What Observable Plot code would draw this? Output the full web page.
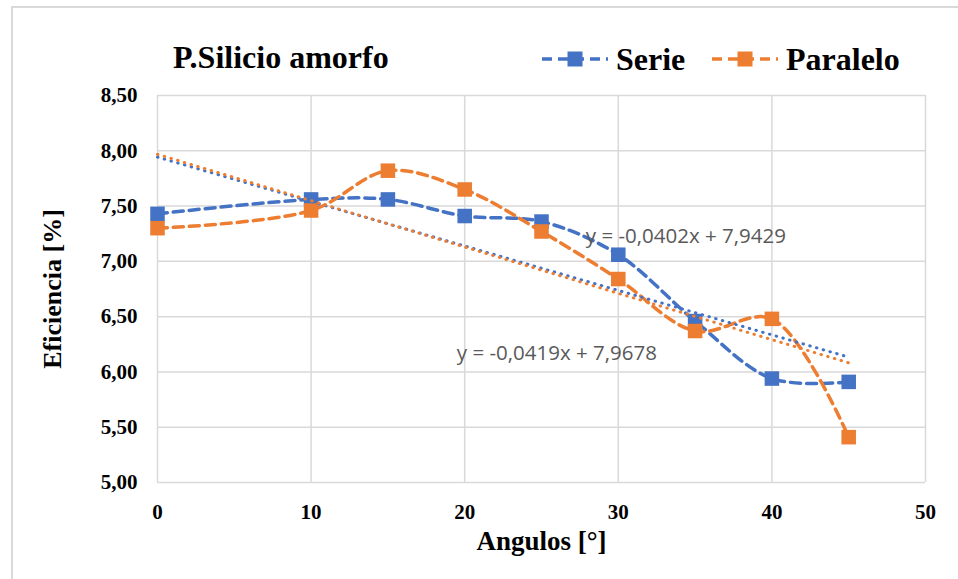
<!DOCTYPE html>
<html>
<head>
<meta charset="utf-8">
<script src="https://cdn.jsdelivr.net/npm/d3@7"></script>
<script src="https://cdn.jsdelivr.net/npm/@observablehq/plot@0.6"></script>
<style>
  body { margin: 0; background: #fff; }
  #wrap { position: relative; width: 958px; height: 579px; overflow: hidden; background: #fff; }
  #border { position: absolute; left: 11px; top: 6px; width: 960px; height: 600px; border: 2px solid #d9d9d9; box-sizing: border-box; }
  #chart { position: absolute; left: 0; top: 0; }
  .serif { font-family: "Liberation Serif", "Times New Roman", serif; font-weight: bold; color: #000; }
  #title { position: absolute; left: 173px; top: 38px; font-size: 32px; line-height: 38px; white-space: nowrap; }
  .leg { position: absolute; top: 40px; height: 38px; display: flex; align-items: center; font-size: 32px; white-space: nowrap; }
  .leg svg { margin-right: 6px; }
</style>
</head>
<body>
<div id="wrap">
  <div id="border"></div>
  <div id="chart"></div>
  <div id="title" class="serif">P.Silicio amorfo</div>
  <div id="legSerie" class="leg serif" style="left:540px"></div>
  <div id="legParalelo" class="leg serif" style="left:710px"></div>
</div>
<script>
// ---- data ----
const angles = [0, 10, 15, 20, 25, 30, 35, 40, 45];
const serieValues = [7.43, 7.56, 7.56, 7.41, 7.36, 7.06, 6.46, 5.94, 5.91];
const paraleloValues = [7.30, 7.46, 7.82, 7.65, 7.27, 6.84, 6.37, 6.48, 5.41];
const seriesNames = ["Serie", "Paralelo"];
const seriesColors = ["#4472C4", "#ED7D31"];
const trendSlopes = [-0.0402, -0.0419];
const trendIntercepts = [7.9429, 7.9678];
const trendLabels = ["y = -0,0402x + 7,9429", "y = -0,0419x + 7,9678"];
const xTicks = [0, 10, 20, 30, 40, 50];
const yTicks = [5.0, 5.5, 6.0, 6.5, 7.0, 7.5, 8.0, 8.5];

// ---- build tables ----
const valuesBySeries = [serieValues, paraleloValues];
const points = [];
seriesNames.forEach((name, i) => {
  angles.forEach((a, j) => points.push({series: name, x: a, y: valuesBySeries[i][j]}));
});
const xMin = d3.min(angles), xMax = d3.max(angles);
const trends = seriesNames.map((name, i) => ({
  series: name,
  x1: xMin, x2: xMax,
  y1: trendIntercepts[i] + trendSlopes[i] * xMin,
  y2: trendIntercepts[i] + trendSlopes[i] * xMax
}));
// label anchors (data coordinates, annotation placement)
const labelPos = [{x: 34.4, y: 7.225}, {x: 26.0, y: 6.17}];
const labels = trendLabels.map((t, i) => ({text: t, ...labelPos[i]}));

const fmt = d => d3.format(".2f")(d).replace(".", ",");
const serifFont = '"Liberation Serif", "Times New Roman", serif';

const plot = Plot.plot({
  width: 958,
  height: 579,
  marginLeft: 157,
  marginRight: 33,
  marginTop: 95,
  marginBottom: 97,
  style: {background: "transparent", fontFamily: serifFont, overflow: "visible"},
  x: {domain: [0, 50], ticks: xTicks, label: null},
  y: {domain: [5, 8.5], ticks: yTicks, label: null},
  color: {domain: seriesNames, range: seriesColors},
  marks: [
    Plot.gridX(xTicks, {stroke: "#d9d9d9", strokeOpacity: 1, strokeWidth: 1.5}),
    Plot.gridY(yTicks, {stroke: "#d9d9d9", strokeOpacity: 1, strokeWidth: 1.5}),
    Plot.axisX(xTicks, {tickSize: 0, tickPadding: 22, tickFormat: d => String(d), fontSize: 21, fontWeight: "bold", fill: "#000", fontFamily: serifFont}),
    Plot.axisY(yTicks, {tickSize: 0, tickPadding: 20, tickFormat: fmt, fontSize: 21, fontWeight: "bold", fill: "#000", fontFamily: serifFont}),
    Plot.line(points, {x: "x", y: "y", z: "series", stroke: "series", curve: "catmull-rom", strokeWidth: 3.5, strokeDasharray: "10,6"}),
    Plot.dot(points, {x: "x", y: "y", fill: "series", symbol: "square", r: 8.2, stroke: "none"}),
    Plot.link(trends, {x1: "x1", x2: "x2", y1: "y1", y2: "y2", stroke: "series", strokeWidth: 3, strokeDasharray: "0.5,6.5", strokeLinecap: "round"}),
    Plot.text(labels, {x: "x", y: "y", text: "text", fill: "#595959", fontSize: 20.5, fontFamily: '"Open Sans", "Liberation Sans", sans-serif', textAnchor: "middle"}),
    Plot.text(["Eficiencia [%]"], {frameAnchor: "left", dx: -105, rotate: -90, textAnchor: "middle", fontSize: 26, fontWeight: "bold", fill: "#000", fontFamily: serifFont}),
    Plot.text(["Angulos [°]"], {frameAnchor: "bottom", dy: 67, textAnchor: "middle", fontSize: 27, fontWeight: "bold", fill: "#000", fontFamily: serifFont})
  ]
});
document.getElementById("chart").appendChild(plot);

// legend
function legendItem(el, name, color) {
  const ns = "http://www.w3.org/2000/svg";
  const svg = document.createElementNS(ns, "svg");
  svg.setAttribute("width", 70);
  svg.setAttribute("height", 20);
  const line = document.createElementNS(ns, "line");
  line.setAttribute("x1", 2); line.setAttribute("x2", 68);
  line.setAttribute("y1", 10); line.setAttribute("y2", 10);
  line.setAttribute("stroke", color); line.setAttribute("stroke-width", 3.5);
  line.setAttribute("stroke-dasharray", "10,6");
  svg.appendChild(line);
  const rect = document.createElementNS(ns, "rect");
  rect.setAttribute("x", 27.5); rect.setAttribute("y", 2.5);
  rect.setAttribute("width", 15); rect.setAttribute("height", 15);
  rect.setAttribute("fill", color);
  svg.appendChild(rect);
  el.appendChild(svg);
  el.appendChild(document.createTextNode(name));
}
legendItem(document.getElementById("legSerie"), seriesNames[0], seriesColors[0]);
legendItem(document.getElementById("legParalelo"), seriesNames[1], seriesColors[1]);
</script>
</body>
</html>
